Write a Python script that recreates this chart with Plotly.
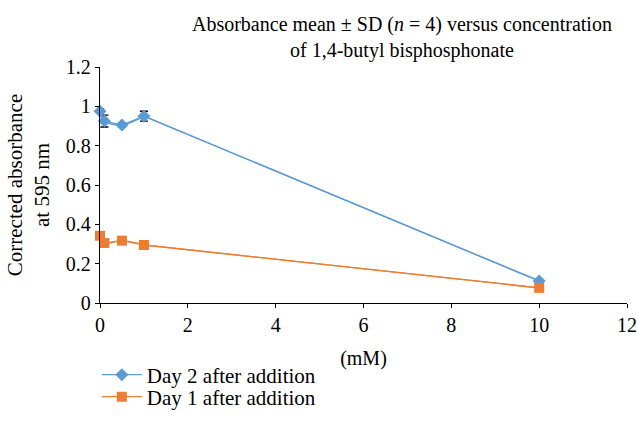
import plotly.graph_objects as go

conc = [0, 0.1, 0.5, 1, 10]
day2 = [0.975, 0.925, 0.905, 0.95, 0.112]
day2_sd = [0.012, 0.03, 0.01, 0.025, 0.008]
day1 = [0.342, 0.305, 0.317, 0.295, 0.077]

x_ticks = [0, 2, 4, 6, 8, 10, 12]
y_ticks = [0, 0.2, 0.4, 0.6, 0.8, 1.0, 1.2]
y_ticktext = ["0", "0.2", "0.4", "0.6", "0.8", "1", "1.2"]

FONT = "Liberation Serif, Times New Roman, serif"
FS = 20
BLUE = "#5B9BD5"
ORANGE = "#ED7D31"

fig = go.Figure()
# smooth curve through the clustered low-concentration points, straight to the last point
for xs, ys, col in [(conc, day2, BLUE), (conc, day1, ORANGE)]:
    fig.add_trace(go.Scatter(x=xs[:4], y=ys[:4], mode="lines", showlegend=False, hoverinfo="skip",
                             line=dict(color=col, width=1.3, shape="spline", smoothing=1)))
    fig.add_trace(go.Scatter(x=xs[3:], y=ys[3:], mode="lines", showlegend=False, hoverinfo="skip",
                             line=dict(color=col, width=1.3)))

fig.add_trace(go.Scatter(
    x=conc, y=day2, name="Day 2 after addition", mode="lines+markers", legend="legend",
    line=dict(color=BLUE, width=1.3),
    marker=dict(symbol="diamond", size=10, color=BLUE),
    error_y=dict(type="data", array=day2_sd, color="black", thickness=1.3, width=4),
    cliponaxis=False,
))
fig.add_trace(go.Scatter(
    x=conc, y=day1, name="Day 1 after addition", mode="lines+markers", legend="legend2",
    line=dict(color=ORANGE, width=1.3),
    marker=dict(symbol="square", size=10, color=ORANGE),
    cliponaxis=False,
))

legend_common = dict(x=-0.006, xanchor="left", yanchor="middle", itemwidth=40,
                     font=dict(family=FONT, size=21, color="black"),
                     bgcolor="rgba(0,0,0,0)", borderwidth=0)

fig.update_layout(
    width=637, height=434,
    margin=dict(l=100, r=10, t=67, b=131, autoexpand=False),
    paper_bgcolor="white", plot_bgcolor="white",
    font=dict(family=FONT, size=FS, color="black"),
    title=dict(text="Absorbance mean \u00b1 SD (<i>n</i> = 4) versus concentration<br>of 1,4-butyl bisphosphonate",
               x=0.631, xanchor="center", y=1 - 30.5 / 434, yanchor="middle", yref="container",
               font=dict(family=FONT, size=FS, color="black")),
    xaxis=dict(range=[0, 12], tickvals=x_ticks, ticktext=[str(v) for v in x_ticks],
               showline=True, linecolor="black", linewidth=1.3, ticks="outside",
               ticklen=4, tickcolor="black", showgrid=False, zeroline=False, automargin=False,
               title=dict(text="(mM)", standoff=15, font=dict(family=FONT, size=FS)),
               tickfont=dict(family=FONT, size=FS)),
    yaxis=dict(range=[0, 1.2], tickvals=y_ticks, ticktext=y_ticktext,
               showline=True, linecolor="black", linewidth=1.3, ticks="outside",
               ticklen=4, tickcolor="black", showgrid=False, zeroline=False, automargin=False,
               title=dict(text="Corrected absorbance<br>at 595 nm", standoff=10, font=dict(family=FONT, size=21)),
               tickfont=dict(family=FONT, size=FS)),
    legend=dict(y=-(375 - 303) / 236, **legend_common),
    legend2=dict(y=-(397 - 303) / 236, **legend_common),
)

fig.write_html("out.html", config={"displayModeBar": False},
               post_script="document.body.style.margin='0';")
